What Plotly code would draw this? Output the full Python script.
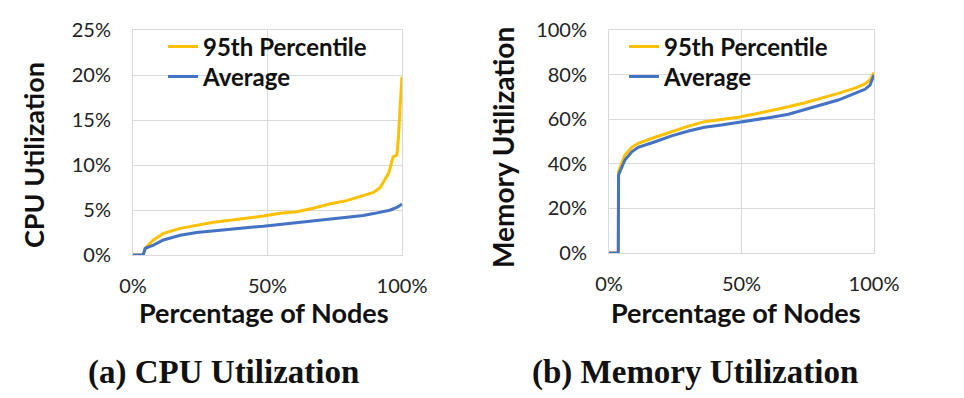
import plotly.graph_objects as go

# ---- data (percent units) ----
cpu_x = [0, 3.8, 4.5, 5.1, 7.6, 11.3, 17.5, 23.7, 29.9, 36, 42, 48.5, 54.6, 60.8, 67, 73, 79.4,
         85.6, 89.4, 91.9, 93.2, 95, 95.7, 96.7, 98.1, 98.7, 99.3, 99.6, 100]
cpu_p95 = [0, 0, 0.6, 0.93, 1.67, 2.4, 2.96, 3.33, 3.63, 3.85, 4.07, 4.33, 4.63, 4.81, 5.19, 5.67, 6.04,
           6.56, 6.95, 7.5, 8.1, 9.07, 9.8, 10.9, 11.1, 13.1, 16.5, 18.5, 19.8]
cpu_avg = [0, 0, 0.74, 0.8, 1.1, 1.67, 2.2, 2.5, 2.7, 2.85, 3.04, 3.2, 3.4, 3.6, 3.74, 3.96, 4.2,
           4.4, 4.6, 4.72, 4.8, 4.95, 5.0, 5.1, 5.3, 5.4, 5.5, 5.6, 5.67]

mem_x = [0, 3.5, 3.6, 6, 8.6, 11, 17.4, 23.6, 30, 36, 42.5, 48.8, 55, 61.4, 67.7, 74, 80.3, 86.5,
         92.8, 96.6, 98.5, 100]
mem_p95 = [0, 0, 36.5, 43.9, 47.4, 49.2, 51.9, 54.4, 56.9, 58.9, 60, 60.9, 62.3, 63.8, 65.6, 67.4,
           69.4, 71.6, 73.9, 75.8, 77.6, 80.9]
mem_avg = [0, 0, 35, 41.7, 45.4, 47.4, 49.9, 52.5, 54.7, 56.4, 57.4, 58.5, 59.7, 60.9, 62.2, 64.4,
           66.4, 68.6, 71.6, 73.4, 75.3, 79.8]

series_names = ["95th Percentile", "Average"]
x_tick_vals = [0, 50, 100]
x_tick_text = ["0%", "50%", "100%"]
cpu_y_tick_vals = [0, 5, 10, 15, 20, 25]
cpu_y_tick_text = ["0%", "5%", "10%", "15%", "20%", "25%"]
mem_y_tick_vals = [0, 20, 40, 60, 80, 100]
mem_y_tick_text = ["0%", "20%", "40%", "60%", "80%", "100%"]

YELLOW = "#FFC000"
BLUE = "#4472C4"
GRID = "#d9d9d9"
W, H = 964, 398
FONT = "Lato"
TXT = "#111111"

def px(x):
    return x / W

def py(y):
    return 1 - y / H

fig = go.Figure()
fig.add_trace(go.Scatter(x=cpu_x, y=cpu_p95, mode="lines", name=series_names[0],
                         line=dict(color=YELLOW, width=3), xaxis="x", yaxis="y", legend="legend"))
fig.add_trace(go.Scatter(x=cpu_x, y=cpu_avg, mode="lines", name=series_names[1],
                         line=dict(color=BLUE, width=3), xaxis="x", yaxis="y", legend="legend2"))
fig.add_trace(go.Scatter(x=mem_x, y=mem_p95, mode="lines", name=series_names[0],
                         line=dict(color=YELLOW, width=3), xaxis="x2", yaxis="y2", legend="legend3"))
fig.add_trace(go.Scatter(x=mem_x, y=mem_avg, mode="lines", name=series_names[1],
                         line=dict(color=BLUE, width=3), xaxis="x2", yaxis="y2", legend="legend4"))

tickfont = dict(family=FONT, size=20, color="#222")
axis_common = dict(showgrid=True, gridcolor=GRID, gridwidth=1, showline=True, linecolor=GRID,
                   linewidth=1, mirror=True, zeroline=False, ticks="", tickfont=tickfont,
                   automargin=False, fixedrange=True)

legend_font = dict(family=FONT, size=24, color=TXT, weight="bold")

def leg(x, y):
    return dict(x=px(x), y=py(y), xanchor="left", yanchor="middle", bgcolor="rgba(0,0,0,0)",
                font=legend_font, itemwidth=30, visible=True)

def ann(text, x, y, size, family=FONT, angle=0):
    return dict(text=text, x=px(x), y=py(y), xref="paper", yref="paper", xanchor="center",
                yanchor="middle", showarrow=False, textangle=angle,
                font=dict(family=family, size=size, color=TXT))

fig.update_layout(
    width=W, height=H, margin=dict(l=0, r=0, t=0, b=0, pad=0, autoexpand=False),
    paper_bgcolor="white", plot_bgcolor="white", showlegend=True,
    xaxis=dict(domain=[px(133), px(402)], range=[0, 100], tickmode="array", tickvals=x_tick_vals,
               ticktext=x_tick_text, anchor="y", ticklabelstandoff=13, **axis_common),
    yaxis=dict(domain=[py(255), py(30)], range=[0, 25], tickmode="array", tickvals=cpu_y_tick_vals,
               ticktext=cpu_y_tick_text, anchor="x", ticklabelstandoff=17, **axis_common),
    xaxis2=dict(domain=[px(609), px(874)], range=[0, 100], tickmode="array", tickvals=x_tick_vals,
                ticktext=x_tick_text, anchor="y2", ticklabelstandoff=13, **axis_common),
    yaxis2=dict(domain=[py(253), py(30)], range=[0, 100], tickmode="array", tickvals=mem_y_tick_vals,
                ticktext=mem_y_tick_text, anchor="x2", ticklabelstandoff=17, **axis_common),
    legend=leg(163, 47),
    legend2=leg(163, 77),
    legend3=leg(624, 47),
    legend4=leg(624, 77),
    shapes=[
        dict(type="rect", xref="paper", yref="paper", x0=px(134), x1=px(398), y0=py(91), y1=py(31),
             fillcolor="white", line=dict(width=0), layer="between"),
        dict(type="rect", xref="paper", yref="paper", x0=px(609), x1=px(838), y0=py(92), y1=py(31),
             fillcolor="white", line=dict(width=0), layer="between"),
    ],
    annotations=[
        ann("<b>Percentage of Nodes</b>", 264, 312, 27),
        ann("<b>Percentage of Nodes</b>", 736, 312, 27),
        ann("<b>CPU Utilization</b>", 33, 155, 27, angle=-90),
        ann("<b>Memory Utilization</b>", 503, 148, 28, angle=-90),
        ann("<b>(a) CPU Utilization</b>", 223, 372, 33, family="Liberation Serif"),
        ann("<b>(b) Memory Utilization</b>", 695, 372, 33, family="Liberation Serif"),
    ],
)

fig.write_html("out.html", config={"displayModeBar": False},
               post_script="document.body.style.margin='0px';")
